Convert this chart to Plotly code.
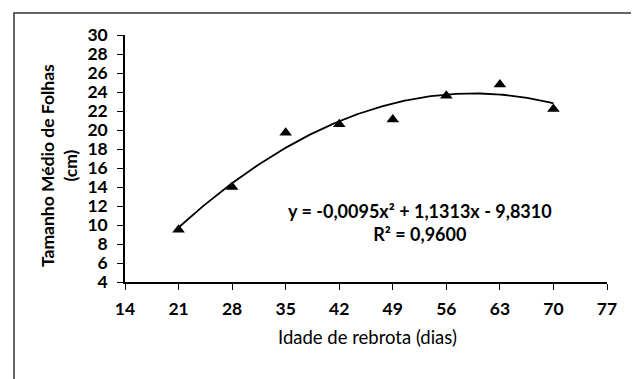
import numpy as np
import plotly.graph_objects as go

# Data
idade = [21, 28, 35, 42, 49, 56, 63, 70]
tamanho = [9.5, 14.0, 19.7, 20.6, 21.1, 23.6, 24.8, 22.2]

# Polynomial trendline coefficients as printed on the chart
coef_a, coef_b, coef_c = -0.0095, 1.1313, -9.8310
x_ticks = [14, 21, 28, 35, 42, 49, 56, 63, 70, 77]
y_ticks = list(range(4, 31, 2))

xs = np.linspace(min(idade), max(idade), 200)
ys = coef_a * xs**2 + coef_b * xs + coef_c

FONT = "Lato"
# the page body adds an 8px margin, so the figure is 8px smaller
W, H = 631, 371
L, R, T, B = 117, 32, 27, 97
PW, PH = W - L - R, H - T - B
OFF = 8


def px_x(px):
    # screen pixel -> paper x
    return (px - OFF - L) / PW


def px_y(py):
    # screen pixel -> paper y
    return (H - B - (py - OFF)) / PH


fig = go.Figure()
fig.add_trace(go.Scatter(x=xs, y=ys, mode="lines",
                         line=dict(color="black", width=1.8), hoverinfo="skip"))
fig.add_trace(go.Scatter(x=idade, y=tamanho, mode="markers",
                         marker=dict(symbol="triangle-up", size=11, color="black")))

fig.update_layout(
    width=W, height=H,
    margin=dict(l=L, r=R, t=T, b=B),
    paper_bgcolor="white", plot_bgcolor="white",
    showlegend=False,
    font=dict(family=FONT, color="black", size=15),
    xaxis=dict(range=[14, 77], tickvals=x_ticks, showgrid=False, zeroline=False,
               showline=True, linecolor="black", linewidth=1.5,
               ticks="outside", ticklen=6, tickcolor="black", tickwidth=1.2,
               ticklabelstandoff=4,
               tickfont=dict(family=FONT, size=17.5, color="black", weight="bold")),
    yaxis=dict(range=[4, 30], tickvals=y_ticks, showgrid=False, zeroline=False,
               showline=True, linecolor="black", linewidth=1.5,
               ticks="outside", ticklen=6, tickcolor="black", tickwidth=1.2,
               ticklabelstandoff=6,
               tickfont=dict(family=FONT, size=17.5, color="black", weight="bold")),
)

# Axis titles
fig.add_annotation(xref="paper", yref="paper", x=px_x(367), y=px_y(337),
                   text="Idade de rebrota (dias)", showarrow=False,
                   xanchor="center", yanchor="middle",
                   font=dict(family=FONT, size=18.5, color="black"))
fig.add_annotation(xref="paper", yref="paper", x=px_x(59), y=px_y(166),
                   text="Tamanho Médio de Folhas<br>(cm)", showarrow=False,
                   textangle=-90, xanchor="center", yanchor="middle",
                   font=dict(family=FONT, size=17.5, color="black", weight="bold"))

# Trendline equation
fig.add_annotation(xref="paper", yref="paper", x=px_x(420), y=px_y(222),
                   text="y = -0,0095x² + 1,1313x - 9,8310<br>R² = 0,9600",
                   showarrow=False, align="center",
                   xanchor="center", yanchor="middle",
                   font=dict(family=FONT, size=18, color="black", weight="bold"))

# Outer chart border
fig.add_shape(type="rect", xref="paper", yref="paper",
              x0=px_x(14), x1=px_x(632), y0=px_y(395), y1=px_y(13),
              line=dict(color="#333333", width=1.5), layer="below")

fig.write_html("out.html")
